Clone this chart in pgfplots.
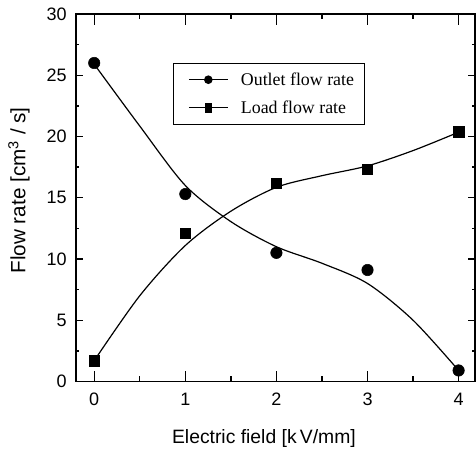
\documentclass[border=0pt]{standalone}
\usepackage{fontspec}
\setmainfont{Liberation Sans}
\newfontfamily\legfont{Liberation Serif}
\usepackage{pgfplots}
\pgfplotsset{compat=1.18}
\begin{document}
\begin{tikzpicture}
\begin{axis}[name=ax, at={(0,0)}, anchor=south west,
  scale only axis, width=299.25pt, height=275.6pt,
  xmin=-0.2, xmax=4.18, ymin=0, ymax=30,
  xtick={0,1,2,3,4}, ytick={0,5,10,15,20,25,30},
  minor x tick num=1, minor y tick num=1,
  tick align=inside,
  axis line style={line width=1.2pt},
  every tick/.style={black, line width=1pt},
  major tick length=5pt, minor tick length=2.5pt,
  xtick style={/pgfplots/major tick length=8pt, /pgfplots/minor tick length=4pt},
  tick label style={font=\fontsize{13.5}{16}\selectfont},
  /pgf/number format/assume math mode=true,
  yticklabel style={xshift=-3.5pt},
  xticklabel style={yshift=-5pt},
  xlabel={Electric field [k\,V/mm]},
  ylabel={Flow rate [cm\textsuperscript{3} / s]},
  xlabel style={font=\fontsize{14.5}{17}\selectfont, at={(axis description cs:0.471,-0.170)}, anchor=base},
  ylabel style={font=\fontsize{15.5}{18}\selectfont, at={(axis description cs:-0.143,0.52)}, anchor=center},
  legend cell align=left,
  legend style={at={(rel axis cs:0.2424,0.8675)}, anchor=north west,
    draw=black, line width=1pt, inner xsep=7.8pt, inner ysep=6.8pt,
    nodes={inner sep=0pt}, column sep=9.5pt, row sep=10.2pt,
    font=\legfont\fontsize{13.4}{16}\selectfont},
]
\addplot[black, line width=0.9pt, smooth, forget plot] coordinates {
(0,25.9) (0.5,20.85) (1,16.0) (1.5,13.05) (2,11.0) (2.5,9.65) (3,8.0)
(3.5,5.0) (4,0.9)};
\addplot[black, line width=0.9pt, smooth, forget plot] coordinates {
(0,1.7) (0.5,7.0) (1,11.1) (1.5,13.9) (2,15.85) (2.5,16.8) (3,17.6)
(3.5,18.85) (4,20.35)};
\addplot[only marks, mark=*, mark size=4.3pt, black,
  legend image code/.code={\path (-3.4pt,0pt);
    \draw[black, line width=0.9pt] (0pt,0pt) -- (29pt,0pt);
    \fill[black] (14.5pt,0pt) circle (2.7pt);}]
  coordinates {(0,26) (1,15.3) (2,10.5) (3,9.1) (4,0.9)};
\addlegendentry{Outlet flow rate}
\addplot[only marks, mark=square*, mark size=3.9pt, black,
  legend image code/.code={\path (-3.4pt,0pt);
    \draw[black, line width=0.9pt] (0pt,0pt) -- (29pt,0pt);
    \fill[black] (12.6pt,-3pt) rectangle (16.4pt,3pt);}]
  coordinates {(0,1.7) (1,12.1) (2,16.2) (3,17.3) (4,20.4)};
\addlegendentry{Load flow rate}
\end{axis}
\pgfresetboundingbox
\path[use as bounding box] ([xshift=-57pt,yshift=-52.9pt]ax.south west) rectangle ([xshift=0.75pt,yshift=10.5pt]ax.north east);
\end{tikzpicture}
\end{document}
